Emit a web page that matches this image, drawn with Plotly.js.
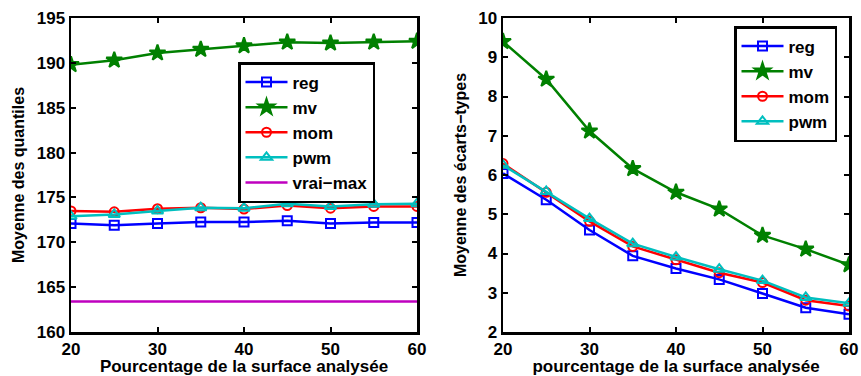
<!DOCTYPE html>
<html><head><meta charset="utf-8">
<script src="https://cdn.plot.ly/plotly-3.0.1.min.js"></script>
<style>html,body{margin:0;padding:0;background:#fff}</style>
</head><body><div id="plot" style="width:861px;height:376px"></div>
<script>
const x = [20, 25, 30, 35, 40, 45, 50, 55, 60];
// Left: Moyenne des quantiles
const qReg = [172.1, 171.9, 172.1, 172.25, 172.25, 172.4, 172.1, 172.2, 172.2];
const qMv  = [189.8, 190.3, 191.1, 191.5, 191.9, 192.3, 192.2, 192.3, 192.4];
const qMom = [173.5, 173.4, 173.75, 173.85, 173.7, 174.1, 173.8, 174.0, 174.0];
const qPwm = [172.9, 173.1, 173.5, 173.85, 173.8, 174.3, 174.0, 174.25, 174.3];
const qVrai = [163.4, 163.4];
const xVrai = [20, 60];
// Right: Moyenne des écarts-types
const sReg = [6.04, 5.37, 4.6, 3.94, 3.62, 3.34, 2.98, 2.62, 2.45];
const sMv  = [9.4, 8.44, 7.12, 6.16, 5.56, 5.13, 4.46, 4.11, 3.71];
const sMom = [6.29, 5.56, 4.82, 4.18, 3.84, 3.51, 3.26, 2.81, 2.66];
const sPwm = [6.25, 5.58, 4.89, 4.25, 3.91, 3.6, 3.31, 2.88, 2.73];

const BLUE = '#0000ff', GREEN = '#008000', RED = '#ff0000', CYAN = '#00bfbf', MAG = '#bf00bf';
const LW = 2.5;
function tr(xv, yv, name, color, sym, xa, ya, leg, size) {
  return {x: xv, y: yv, name: name, type: 'scatter', mode: 'lines+markers',
    xaxis: xa, yaxis: ya, legend: leg,
    line: {color: color, width: LW},
    marker: {symbol: sym, size: size, color: color, line: {color: color, width: 2}}};
}
const data = [
  tr(x, qReg, 'reg', BLUE, 'square-open', 'x', 'y', 'legend', 9),
  tr(x, qMv, 'mv', GREEN, 'star', 'x', 'y', 'legend', 12),
  tr(x, qMom, 'mom', RED, 'circle-open', 'x', 'y', 'legend', 9),
  tr(x, qPwm, 'pwm', CYAN, 'triangle-up-open', 'x', 'y', 'legend', 10),
  {x: xVrai, y: qVrai, name: 'vrai\u2212max', type: 'scatter', mode: 'lines', xaxis: 'x', yaxis: 'y',
   legend: 'legend', line: {color: MAG, width: LW}},
  tr(x, sReg, 'reg', BLUE, 'square-open', 'x2', 'y2', 'legend2', 9),
  tr(x, sMv, 'mv', GREEN, 'star', 'x2', 'y2', 'legend2', 12),
  tr(x, sMom, 'mom', RED, 'circle-open', 'x2', 'y2', 'legend2', 9),
  tr(x, sPwm, 'pwm', CYAN, 'triangle-up-open', 'x2', 'y2', 'legend2', 10)
];
const W = 861, H = 376;
const FAM = 'Liberation Sans, Arial, sans-serif';
const tickFont = {family: FAM, size: 17, color: '#000', weight: 'bold'};
const xTitleFont = {family: FAM, size: 17, color: '#000', weight: 'bold'};
const yTitleFont = {family: FAM, size: 16, color: '#000', weight: 'bold'};
const legFont = {family: FAM, size: 17, color: '#000', weight: 'bold'};
function axBase(extra) {
  return Object.assign({showline: true, linecolor: '#000', linewidth: 2.5, mirror: 'allticks',
    ticks: 'inside', ticklen: 5, tickwidth: 2, tickcolor: '#000', showgrid: false, zeroline: false,
    tickfont: tickFont, automargin: false, ticklabelstandoff: 0}, extra);
}
const yDom = [1 - 332 / H, 1 - 18 / H];
const layout = {
  width: W, height: H, margin: {l: 0, r: 0, t: 0, b: 0},
  paper_bgcolor: '#fff', plot_bgcolor: '#fff', showlegend: true,
  font: {family: FAM, color: '#000'},
  xaxis: axBase({domain: [71 / W, 417 / W], range: [20, 60], tickvals: [20, 30, 40, 50, 60], anchor: 'y',
    title: {text: 'Pourcentage de la surface analysée', font: xTitleFont, standoff: 0}}),
  yaxis: axBase({domain: yDom, range: [160, 195], tickvals: [160, 165, 170, 175, 180, 185, 190, 195], anchor: 'x',
    title: {text: 'Moyenne des quantiles', font: yTitleFont, standoff: 8}}),
  xaxis2: axBase({domain: [503 / W, 849 / W], range: [20, 60], tickvals: [20, 30, 40, 50, 60], anchor: 'y2',
    title: {text: 'pourcentage de la surface analysée', font: xTitleFont, standoff: 0}}),
  yaxis2: axBase({domain: yDom, range: [2, 10], tickvals: [2, 3, 4, 5, 6, 7, 8, 9, 10], anchor: 'x2',
    title: {text: 'Moyenne des écarts\u2212types', font: yTitleFont, standoff: 8}}),
  legend: {x: 238 / W, y: 1 - 62 / H, xanchor: 'left', yanchor: 'top', bgcolor: '#fff',
    bordercolor: '#000', borderwidth: 2.5, font: legFont, tracegroupgap: 0, itemwidth: 42},
  legend2: {x: 734 / W, y: 1 - 26 / H, xanchor: 'left', yanchor: 'top', bgcolor: '#fff',
    bordercolor: '#000', borderwidth: 2.5, font: legFont, tracegroupgap: 0, itemwidth: 42}
};
Plotly.newPlot('plot', data, layout, {displayModeBar: false, staticPlot: true});
</script></body></html>
